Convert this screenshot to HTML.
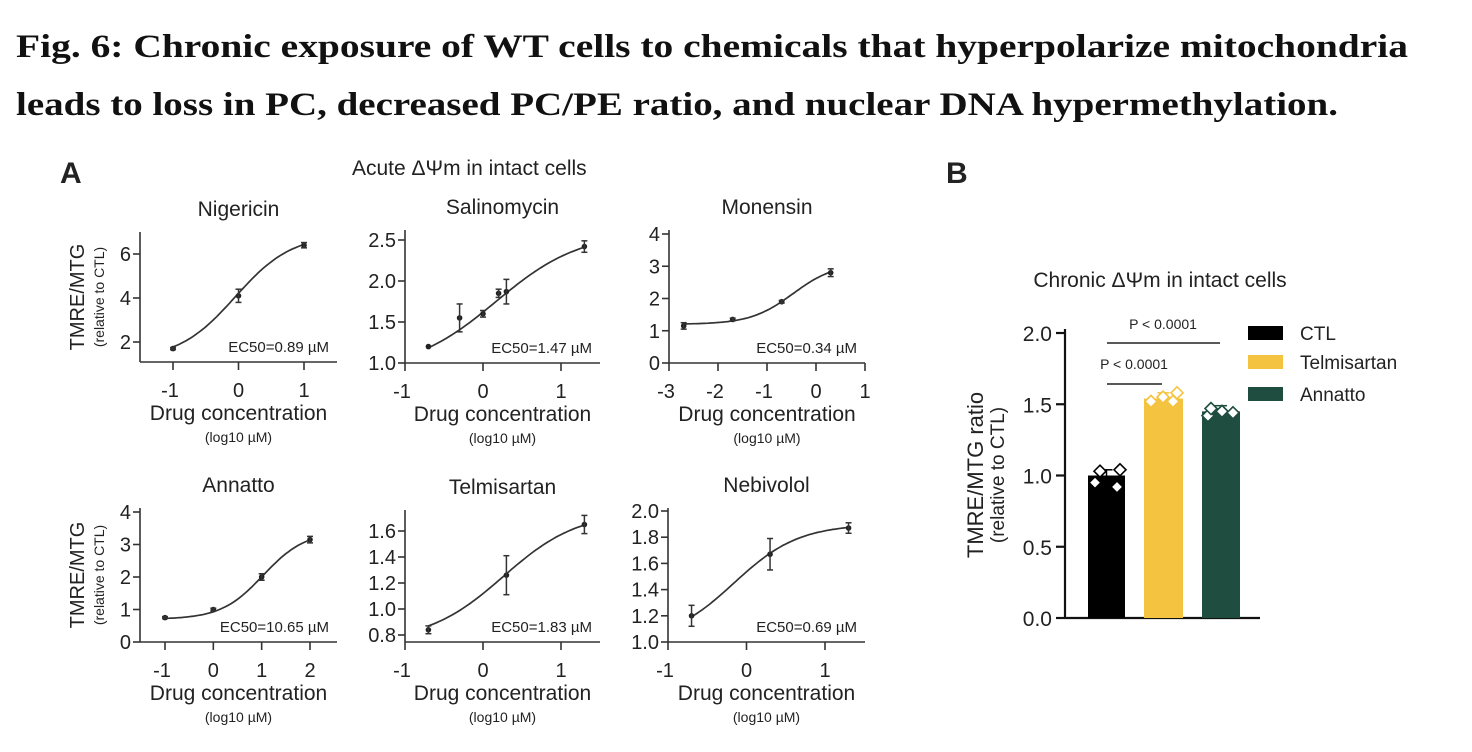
<!DOCTYPE html>
<html><head><meta charset="utf-8"><style>
html,body{margin:0;padding:0;background:#fff;}
svg{display:block}
.t{font-family:"Liberation Sans",sans-serif;fill:#222}
.ttl{font-family:"Liberation Serif",serif;font-weight:bold;fill:#111;font-size:33px}
</style></head><body>
<svg id="s" width="1472" height="752" viewBox="0 0 1472 752" xmlns="http://www.w3.org/2000/svg">
<text class="ttl" x="16" y="57" textLength="1392" lengthAdjust="spacingAndGlyphs">Fig. 6: Chronic exposure of WT cells to chemicals that hyperpolarize mitochondria</text>
<text class="ttl" x="16" y="115" textLength="1322" lengthAdjust="spacingAndGlyphs">leads to loss in PC, decreased PC/PE ratio, and nuclear DNA hypermethylation.</text>
<text class="t" x="60" y="183" font-size="30" font-weight="bold" fill="#111">A</text>
<text class="t" x="946" y="183" font-size="30" font-weight="bold" fill="#111">B</text>
<text class="t" x="352" y="175" font-size="21">Acute ΔΨm in intact cells</text>
<g id="g"></g>
</svg>
<script>
var g=document.getElementById('g');
var out='';
function T(x,y,s,sz,anc,extra){out+='<text class="t" x="'+x+'" y="'+y+'" font-size="'+sz+'" text-anchor="'+(anc||'middle')+'" '+(extra||'')+'>'+s+'</text>';}
function L(x1,y1,x2,y2,w,c){out+='<line x1="'+x1+'" y1="'+y1+'" x2="'+x2+'" y2="'+y2+'" stroke="'+(c||'#333')+'" stroke-width="'+(w||1.6)+'"/>';}
function panel(p){
 var X=function(v){return p.x0+(v-p.xt[0])/(p.xt[p.xt.length-1]-p.xt[0])*(p.x1-p.x0);};
 var Y=function(v){return p.y0+(v-p.yt[0])/(p.yt[p.yt.length-1]-p.yt[0])*(p.y1-p.y0);};
 var ax=p.ax, ay=p.ay;
 L(ax,ay,ax,p.ytop);L(ax,ay,p.xr,ay);
 p.yt.forEach(function(v,i){var y=Y(v);L(ax-7,y,ax,y);T(ax-9,y+7,p.yl[i],20,'end');});
 p.xt.forEach(function(v,i){var x=X(v);L(x,ay,x,ay+8);T(x+(p.xl[i].charAt(0)=='-'?-3:0),ay+35,p.xl[i],20);});
 var cx=(ax+p.xr)/2;
 T(cx,ay+58,'Drug concentration',21);T(cx,ay+80,'(log10 µM)',14);
 T(cx,p.ytop-16,p.name,21);
 T(p.xr-8,ay-10,p.ec,15,'end');
 if(p.ylab){T(0,0,'TMRE/MTG',20,'middle','transform="translate('+(ax-56)+','+((ay+p.ytop)/2)+') rotate(-90)"');
 T(0,0,'(relative to CTL)',14,'middle','transform="translate('+(ax-36)+','+((ay+p.ytop)/2)+') rotate(-90)"');}
 var s=p.s,d='';
 for(var i=0;i<=60;i++){var v=p.pts[0][0]+(p.pts[p.pts.length-1][0]-p.pts[0][0])*i/60;
  var yv=s[0]+(s[1]-s[0])/(1+Math.pow(10,(s[2]-v)*s[3]));d+=(i?'L':'M')+X(v).toFixed(1)+','+Y(yv).toFixed(1);}
 out+='<path d="'+d+'" fill="none" stroke="#333" stroke-width="1.7"/>';
 p.pts.forEach(function(q){var x=X(q[0]),y=Y(q[1]);out+='<circle cx="'+x+'" cy="'+y+'" r="2.8" fill="#222"/>';
  if(q[2]){var a=Y(q[1]+q[2]),b=Y(q[1]-q[2]);L(x,a,x,b,1.5);L(x-3,a,x+3,a,1.5);L(x-3,b,x+3,b,1.5);}});
}
panel({name:'Nigericin',ax:140,ay:362,ytop:232,xr:337,xt:[-1,0,1],xl:['-1','0','1'],x0:173,x1:304,yt:[2,4,6],yl:['2','4','6'],y0:342,y1:254,ec:'EC50=0.89 µM',ylab:1,s:[1.2,6.9,-0.05,1],pts:[[-1,1.7,0.05],[0,4.1,0.3],[1,6.4,0.12]]});
panel({name:'Salinomycin',ax:405,ay:363,ytop:230,xr:600,xt:[-1,0,1],xl:['-1','0','1'],x0:405,x1:561,yt:[1,1.5,2,2.5],yl:['1.0','1.5','2.0','2.5'],y0:363,y1:240,ec:'EC50=1.47 µM',s:[0.9,2.6,0.167,0.8],pts:[[-0.7,1.2,0],[-0.3,1.55,0.17],[0,1.6,0.04],[0.2,1.85,0.05],[0.3,1.87,0.15],[1.3,2.42,0.07]]});
panel({name:'Monensin',ax:669,ay:363,ytop:230,xr:865,xt:[-3,-2,-1,0,1],xl:['-3','-2','-1','0','1'],x0:669,x1:865,yt:[0,1,2,3,4],yl:['0','1','2','3','4'],y0:363,y1:234,ec:'EC50=0.34 µM',s:[1.2,3.1,-0.47,1],pts:[[-2.7,1.15,0.1],[-1.7,1.35,0.04],[-0.7,1.9,0.04],[0.3,2.8,0.12]]});
panel({name:'Annatto',ax:140,ay:642,ytop:508,xr:337,xt:[-1,0,1,2],xl:['-1','0','1','2'],x0:165,x1:310,yt:[0,1,2,3,4],yl:['0','1','2','3','4'],y0:642,y1:512,ec:'EC50=10.65 µM',ylab:1,s:[0.7,3.4,1.03,1],pts:[[-1,0.75,0.03],[0,1.0,0.04],[1,2.0,0.1],[2,3.15,0.1]]});
panel({name:'Telmisartan',ax:405,ay:642,ytop:510,xr:600,xt:[-1,0,1],xl:['-1','0','1'],x0:405,x1:561,yt:[0.8,1.0,1.2,1.4,1.6],yl:['0.8','1.0','1.2','1.4','1.6'],y0:635,y1:531,ec:'EC50=1.83 µM',s:[0.75,1.75,0.26,0.9],pts:[[-0.7,0.84,0.03],[0.3,1.26,0.15],[1.3,1.65,0.07]]});
panel({name:'Nebivolol',ax:668,ay:642,ytop:508,xr:865,xt:[-1,0,1],xl:['-1','0','1'],x0:668,x1:825,yt:[1,1.2,1.4,1.6,1.8,2.0],yl:['1.0','1.2','1.4','1.6','1.8','2.0'],y0:642,y1:511,ec:'EC50=0.69 µM',s:[1.0,1.9,-0.16,1.05],pts:[[-0.7,1.2,0.08],[0.3,1.67,0.12],[1.3,1.87,0.04]]});
var by=function(v){return 618-v*142.5;};
T(1160,287,'Chronic ΔΨm in intact cells',21);
L(1065,618,1065,329,2.2,'#111');L(1065,618,1260,618,2.2,'#111');
[0,0.5,1,1.5,2].forEach(function(v){L(1056,by(v),1065,by(v),2.2,'#111');T(1052,by(v)+8,v.toFixed(1),21,'end');});
T(0,0,'TMRE/MTG ratio',22,'middle','transform="translate(983,475) rotate(-90)"');
T(0,0,'(relative to CTL)',19,'middle','transform="translate(1004,475) rotate(-90)"');
var bars=[[1088,1125,1.0,'#000',[[0.95,1.03,0.92,1.04],[1095,1100,1117,1120]]],[1144,1183,1.54,'#f4c33f',[[1.52,1.55,1.52,1.58],[1151,1163,1173,1177]]],[1202,1240,1.45,'#1f4d40',[[1.42,1.47,1.45,1.44],[1208,1211,1222,1233]]]];
bars.forEach(function(b){out+='<rect x="'+b[0]+'" y="'+by(b[2])+'" width="'+(b[1]-b[0])+'" height="'+(618-by(b[2]))+'" fill="'+b[3]+'"/>';
 var m=(b[0]+b[1])/2;L(m,by(b[2]),m,by(b[2]+0.04),1.5,b[3]);L(m-6,by(b[2]+0.04),m+6,by(b[2]+0.04),1.5,b[3]);
 b[4][0].forEach(function(v,i){var x=b[4][1][i],y=by(v);out+='<path d="M'+x+','+(y-6)+'L'+(x+6)+','+y+'L'+x+','+(y+6)+'L'+(x-6)+','+y+'Z" fill="#fff" stroke="'+b[3]+'" stroke-width="1.6"/>';});});
L(1107,384,1162,384,1.6,'#222');T(1134,369,'P &lt; 0.0001',14);
L(1107,343,1220,343,1.6,'#222');T(1163,329,'P &lt; 0.0001',14);
[['CTL','#000',333],['Telmisartan','#f4c33f',362],['Annatto','#1f4d40',394]].forEach(function(l){out+='<rect x="1248" y="'+(l[2]-7)+'" width="35" height="14" fill="'+l[1]+'"/>';T(1300,l[2]+7,l[0],19,'start');});
g.innerHTML=out;
</script>
</body></html>
